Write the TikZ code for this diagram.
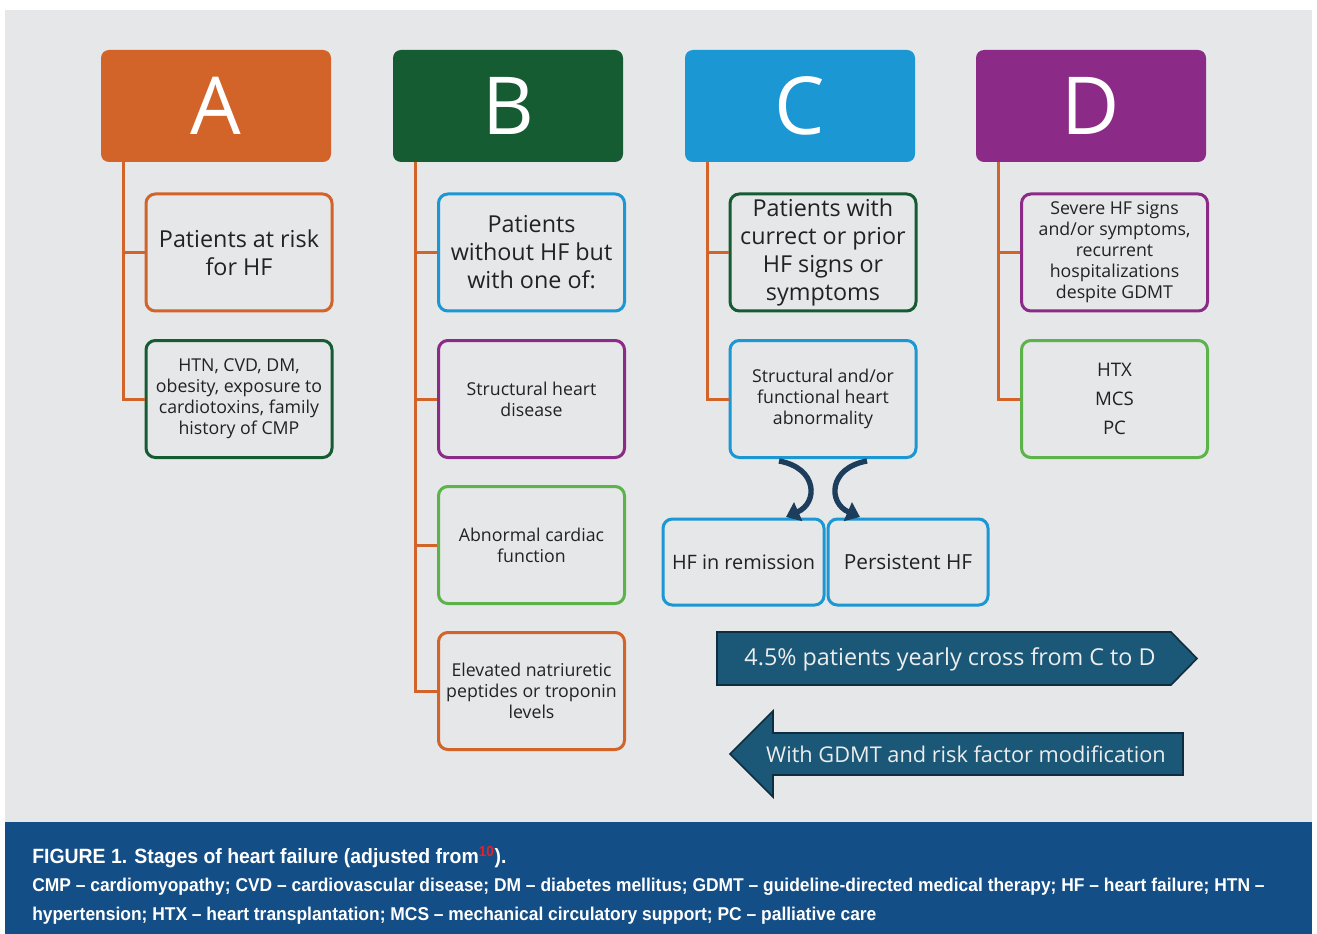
\documentclass[tikz,border=0pt]{standalone}
\usepackage{fontspec}
\setmainfont{Open Sans}
\newfontfamily\capfont[FakeStretch=0.94]{Liberation Sans}
\usetikzlibrary{arrows.meta}
\definecolor{bggray}{HTML}{E6E7E9}
\definecolor{corange}{HTML}{D2642A}
\definecolor{cdgreen}{HTML}{165C33}
\definecolor{cblue}{HTML}{1B97D3}
\definecolor{cpurple}{HTML}{8C2A87}
\definecolor{clgreen}{HTML}{5BB349}
\definecolor{cnavy}{HTML}{1B5777}
\definecolor{cnavyline}{HTML}{0F2D40}
\definecolor{ccurl}{HTML}{1C3D5C}
\definecolor{ccap}{HTML}{134E87}
\definecolor{cred}{HTML}{E5202A}
\definecolor{ctxt}{HTML}{222222}
\definecolor{carrtxt}{HTML}{EDEDED}
\tikzset{
  hdr/.style={rounded corners=6pt, minimum width=172.5pt, minimum height=84pt,
    text=white, font=\fontsize{60}{60}\selectfont, inner sep=0pt},
  box/.style={draw, line width=2.25pt, rounded corners=7pt, minimum width=139.5pt,
    minimum height=87.75pt, align=center, text=ctxt, inner sep=2pt},
  bigtxt/.style={font=\fontsize{17.5}{21}\selectfont},
  smalltxt/.style={font=\fontsize{13.3}{15.75}\selectfont},
  conn/.style={draw=corange, line width=2.25pt},
  curl/.style={draw=ccurl, line width=4pt, -{Triangle[length=10pt,width=15pt]}},
  bigarrow/.style={fill=cnavy, draw=cnavyline, line width=1.2pt},
  arrtxt/.style={text=carrtxt},
  captxt/.style={text=white, anchor=west, inner sep=0pt}
}
\begin{document}
\begin{tikzpicture}[x=0.75pt,y=-0.75pt]
\useasboundingbox (0,0) rectangle (1317,934);
\fill[white] (0,0) rectangle (1317,934);
\fill[bggray] (5,10) rectangle (1312,822);
\fill[ccap] (5,822) rectangle (1312,934);

% headers
\node[hdr, fill=corange] (A) at (216,106) {A};
\node[hdr, fill=cdgreen] (B) at (508,106) {B};
\node[hdr, fill=cblue] (C) at (800,106) {C};
\node[hdr, fill=cpurple] (D) at (1091,106) {D};

% column A
\node[box, bigtxt, draw=corange] (A1) at (239,252.5) {Patients at risk\\for HF};
\node[box, smalltxt, draw=cdgreen] (A2) at (239,399) {HTN, CVD, DM,\\obesity, exposure to\\cardiotoxins, family\\history of CMP};

% column B
\node[box, bigtxt, draw=cblue] (B1) at (531.5,252.5) {Patients\\without HF but\\with one of:};
\node[box, smalltxt, draw=cpurple] (B2) at (531.5,399) {Structural heart\\disease};
\node[box, smalltxt, draw=clgreen] (B3) at (531.5,545) {Abnormal cardiac\\function};
\node[box, smalltxt, draw=corange] (B4) at (531.5,691) {Elevated natriuretic\\peptides or troponin\\levels};

% column C
\node[box, bigtxt, draw=cdgreen] (C1) at (823,252.5) {Patients with\\currect or prior\\HF signs or\\symptoms};
\node[box, smalltxt, draw=cblue] (C2) at (823,399) {Structural and/or\\functional heart\\abnormality};
\node[box, draw=cblue, minimum width=120.75pt, minimum height=64.5pt,
  font=\fontsize{14.9}{16}\selectfont] (R) at (743.5,562) {HF in remission};
\node[box, draw=cblue, minimum width=120pt, minimum height=64.5pt,
  font=\fontsize{15.6}{16}\selectfont] (P) at (908,562) {Persistent HF};

% column D
\node[box, smalltxt, draw=cpurple] (D1) at (1114.5,252.5) {Severe HF signs\\and/or symptoms,\\recurrent\\hospitalizations\\despite GDMT};
\node[box, draw=clgreen, font=\fontsize{14}{21.75}\selectfont] (D2) at (1114.5,399) {HTX\\MCS\\PC};

% connectors
\coordinate (Atr) at (123,162);
\coordinate (Btr) at (415,162);
\coordinate (Ctr) at (707,162);
\coordinate (Dtr) at (998,162);
\draw[conn] (Atr) |- (A1.west);
\draw[conn] (Atr) |- (A2.west);
\draw[conn] (Btr) |- (B1.west);
\draw[conn] (Btr) |- (B2.west);
\draw[conn] (Btr) |- (B3.west);
\draw[conn] (Btr) |- (B4.west);
\draw[conn] (Ctr) |- (C1.west);
\draw[conn] (Ctr) |- (C2.west);
\draw[conn] (Dtr) |- (D1.west);
\draw[conn] (Dtr) |- (D2.west);

% curved arrows
\coordinate (cl) at (779,461);
\coordinate (cr) at (867,461);
\coordinate (rt) at (786,517);
\coordinate (pt) at (860,517);
\draw[curl] (cl) .. controls (818,468) and (818,503) .. (rt);
\draw[curl] (cr) .. controls (828,468) and (828,503) .. (pt);

% big arrows
\draw[bigarrow] (717,632) -- (1171,632) -- (1197,658.5) -- (1171,685) -- (717,685) -- cycle;
\node[arrtxt, font=\fontsize{17.5}{20}\selectfont] (cross) at (950,659) {4.5\% patients yearly cross from C to D};
\draw[bigarrow] (730,754) -- (773,711) -- (773,733) -- (1183,733) -- (1183,775) -- (773,775) -- (773,797) -- cycle;
\node[arrtxt, font=\fontsize{16.3}{20}\selectfont] (gdmt) at (966,754) {With GDMT and risk factor modification};

% caption
\node[captxt, font=\capfont\bfseries\fontsize{15.5}{17}\selectfont] (cap1) at (32,857)
  {FIGURE 1. Stages of heart failure (adjusted from\textsuperscript{\color{cred}10}).};
\node[captxt, font=\capfont\bfseries\fontsize{13.9}{15}\selectfont] (cap2) at (32,887)
  {CMP \textendash\ cardiomyopathy; CVD \textendash\ cardiovascular disease; DM \textendash\ diabetes mellitus; GDMT \textendash\ guideline-directed medical therapy; HF \textendash\ heart failure; HTN \textendash};
\node[captxt, font=\capfont\bfseries\fontsize{13.9}{15}\selectfont] (cap3) at (32,916)
  {hypertension; HTX \textendash\ heart transplantation; MCS \textendash\ mechanical circulatory support; PC \textendash\ palliative care};
\end{tikzpicture}
\end{document}
